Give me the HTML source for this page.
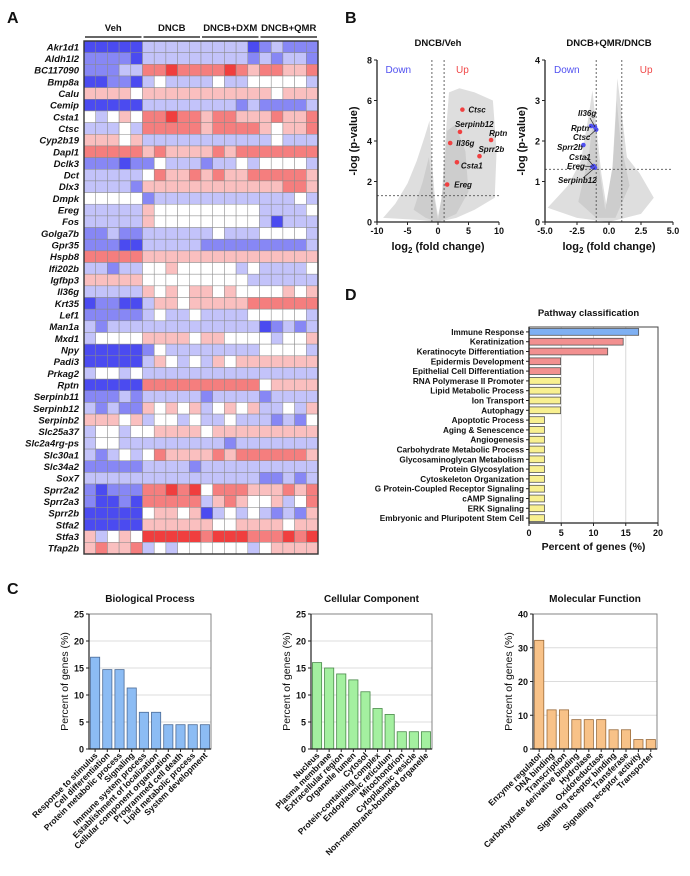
<!DOCTYPE html>
<html><head><meta charset="utf-8">
<style>
html,body{margin:0;padding:0;background:#fff;}
svg{display:block;font-family:"Liberation Sans",Arial,sans-serif;}
text{font-weight:bold;fill:#111;}
</style></head>
<body>
<svg id="fig" width="690" height="876" viewBox="0 0 690 876" xmlns="http://www.w3.org/2000/svg">
<text x="7" y="23" font-size="16">A</text>
<text x="345" y="23" font-size="16">B</text>
<text x="345" y="300" font-size="16">D</text>
<text x="7" y="594" font-size="16">C</text>
<g id="heat"></g>
<g id="volL"></g>
<g id="volR"></g>
<g id="path"></g>
<g id="bp"></g>
<g id="cc"></g>
<g id="mf"></g>
</svg>
<script>
// ---------- Heatmap data ----------
const genes = ["Akr1d1","Aldh1l2","BC117090","Bmp8a","Calu","Cemip","Csta1","Ctsc","Cyp2b19","Dapl1","Dclk3","Dct","Dlx3","Dmpk","Ereg","Fos","Golga7b","Gpr35","Hspb8","Ifi202b","Igfbp3","Il36g","Krt35","Lef1","Man1a","Mxd1","Npy","Padi3","Prkag2","Rptn","Serpinb11","Serpinb12","Serpinb2","Slc25a37","Slc2a4rg-ps","Slc30a1","Slc34a2","Sox7","Sprr2a2","Sprr2a3","Sprr2b","Stfa2","Stfa3","Tfap2b"];
const groups = ["Veh","DNCB","DNCB+DXM","DNCB+QMR"];
const heatValues = [
[-3,-3,-3,-3,-3,-1,-1,-1,-1,-1,-1,-1,-1,-1,-3,-2,-1,-2,-2,-2],
[-2,-2,-2,-2,-3,-1,-1,-1,-1,-1,-1,-1,-1,-1,-2,-1,-2,-1,-1,-2],
[-2,-2,-2,-1,-1,2,2,3,2,2,2,2,3,2,1,2,2,1,1,2],
[-3,-3,-2,-2,-3,-1,0,-1,-1,-1,-1,0,-1,-1,0,0,0,0,0,-1],
[1,1,1,1,0,1,1,1,1,1,1,1,1,1,1,1,0,1,1,1],
[-3,-3,-3,-3,-3,-1,-1,-1,-1,-1,-1,-1,-1,-2,-1,-2,-2,-2,-2,-1],
[0,-1,0,1,0,2,2,3,2,2,1,2,2,1,1,1,2,1,1,2],
[-1,-1,-1,0,-1,2,2,2,2,2,1,2,2,2,2,1,0,1,1,2],
[1,1,1,0,1,-1,-1,-1,-1,-1,-1,-1,-1,-1,-1,-1,0,-1,-1,-1],
[2,2,2,2,2,1,2,1,1,1,1,2,1,2,2,2,2,2,2,2],
[-2,-2,-2,-3,-2,-2,0,-1,-1,-1,-2,-1,-1,0,-1,0,0,0,0,-1],
[-1,-1,-1,-1,-1,0,2,1,1,2,1,2,1,1,2,2,2,2,2,1],
[-1,-1,-1,-1,-2,1,1,1,1,1,1,1,1,1,1,1,1,2,2,1],
[0,0,0,0,0,-2,-1,-1,-1,-1,-1,-1,-1,-1,-1,-1,-1,-1,0,-1],
[-1,-1,-1,-1,-1,1,0,0,0,0,0,0,0,0,0,-1,-1,-1,-1,0],
[-1,-1,-1,-1,-1,1,0,0,0,0,0,0,0,0,0,-1,-3,-1,-1,-1],
[-2,-2,-1,-2,-2,-1,-1,-1,-1,-1,-1,0,-1,-1,-1,0,0,0,0,-1],
[-2,-2,-2,-3,-3,-1,-1,-1,-1,-1,-2,-2,-2,-2,-2,-2,-2,-2,-2,-1],
[2,2,2,2,2,1,1,1,1,1,1,1,1,1,1,1,1,1,1,1],
[-1,-1,-2,-1,-1,0,0,1,0,0,0,0,0,-1,0,-1,-1,-1,-1,0],
[1,1,1,1,1,0,0,0,0,0,0,0,0,0,-1,-1,-1,-1,-1,-1],
[-1,-1,-1,-1,-1,1,0,1,0,1,1,0,1,0,0,0,0,1,0,1],
[-3,-2,-2,-3,-3,-1,1,1,0,1,1,1,1,1,2,2,2,2,2,2],
[-2,-2,-2,-2,-2,-1,0,-1,-1,0,-1,-1,-1,-1,0,0,0,0,0,-1],
[-1,-2,-1,-1,-1,-1,-1,-1,-1,-1,-1,-1,-1,-1,-1,-3,-2,-1,-2,-1],
[-1,0,0,0,0,1,1,1,1,0,1,1,0,0,0,0,-1,0,0,1],
[-3,-3,-3,-3,-3,-2,0,-1,-1,-1,-1,-1,-1,-1,-1,0,0,0,0,-1],
[-3,-3,-3,-3,-3,-1,1,0,-1,0,-1,1,0,1,1,1,1,1,1,1],
[-1,0,0,-1,0,-1,-1,-1,-1,-1,-1,-1,-1,-1,-1,-1,-1,-1,-1,-1],
[-3,-3,-3,-3,-3,2,2,2,2,2,2,2,2,2,2,0,1,1,1,1],
[-2,-2,-2,-1,-2,-1,-1,-1,-1,-1,-2,-1,-1,-1,-1,-2,-1,-1,-1,-1],
[-1,-2,-1,-2,-2,1,0,1,0,1,-1,0,1,0,1,-1,-1,0,-1,1],
[1,1,1,0,1,-1,0,0,-1,0,-1,-1,0,-1,-1,-1,-2,-1,-2,0],
[-1,0,0,-1,0,0,1,1,1,1,0,1,1,1,1,1,1,1,1,1],
[-1,0,0,-1,-1,-1,-1,-1,-1,-1,-1,-1,-2,-1,-1,-1,-1,-1,-1,-1],
[-1,-2,-1,0,-1,0,2,1,1,1,1,2,1,2,2,2,2,2,2,1],
[-2,-2,-2,-2,-2,-1,-1,-1,-1,-2,-1,-1,-1,-1,-1,-1,-1,-1,-1,-1],
[-1,-1,-1,-1,-1,-1,-1,-1,-1,-1,-1,-1,-1,-1,-1,-2,-2,-1,-2,-1],
[-2,-3,-2,-2,-2,2,2,3,2,3,0,2,2,2,1,1,1,2,1,2],
[-2,-3,-3,-2,-3,2,2,2,2,2,-1,1,2,1,0,0,1,-1,0,2],
[-3,-3,-3,-3,-3,0,1,1,0,1,-3,-1,0,-1,0,-1,-2,-1,-2,1],
[-3,-3,-3,-3,-3,1,1,1,1,1,1,0,0,1,1,1,1,0,1,1],
[1,-1,0,1,0,3,3,3,3,3,2,3,3,3,2,2,2,3,2,3],
[1,2,1,1,2,-1,0,-1,0,0,0,0,0,0,-1,0,1,1,1,1]
];
// ---------- Volcano data ----------
const volLGenes = ["Ctsc","Serpinb12","Rptn","Il36g","Sprr2b","Csta1","Ereg"];
const volLFC = [4.0,3.6,8.7,2.0,6.8,3.1,1.5];
const volLP = [5.55,4.45,4.05,3.9,3.25,2.95,1.85];
const volRGenes = ["Il36g","Rptn","Ctsc","Sprr2b","Csta1","Ereg","Serpinb12"];
const volRFC = [-1.1,-1.4,-1.0,-2.0,-1.2,-1.3,-1.1];
const volRP = [2.35,2.37,2.28,1.9,1.38,1.36,1.34];
// ---------- Pathway data ----------
const pathNames = ["Immune Response","Keratinization","Keratinocyte Differentiation","Epidermis Development","Epithelial Cell Differentiation","RNA Polymerase II Promoter","Lipid Metabolic Process","Ion Transport","Autophagy","Apoptotic Process","Aging & Senescence","Angiogenesis","Carbohydrate Metabolic Process","Glycosaminoglycan Metabolism","Protein Glycosylation","Cytoskeleton Organization","G Protein-Coupled Receptor Signaling","cAMP Signaling","ERK Signaling","Embryonic and Pluripotent Stem Cell"];
const pathValues = [17,14.6,12.2,4.9,4.9,4.9,4.9,4.9,4.9,2.4,2.4,2.4,2.4,2.4,2.4,2.4,2.4,2.4,2.4,2.4];
const pathCats = ["blue","red","red","red","red","yellow","yellow","yellow","yellow","yellow","yellow","yellow","yellow","yellow","yellow","yellow","yellow","yellow","yellow","yellow"];
const pathTicks = [0,5,10,15,20];
// ---------- GO data ----------
const bpNames = ["Response to stimulus","Cell differentiation","Protein metabolic process","Signaling","Immune system process","Establishment of localization","Cellular component organization","Programmed cell death","Lipid metabolic process","System development"];
const bpValues = [17,14.7,14.7,11.3,6.8,6.8,4.5,4.5,4.5,4.5];
const ccNames = ["Nucleus","Plasma membrane","Extracellular region","Organelle lumen","Cytosol","Protein-containing complex","Endoplasmic reticulum","Mitochondrion","Cytoplasmic vesicle","Non-membrane-bounded organelle"];
const ccValues = [16,15,13.9,12.8,10.6,7.5,6.4,3.2,3.2,3.2];
const mfNames = ["Enzyme regulator","DNA binding","Transcription","Carbohydrate derivative binding","Hydrolase","Oxidoreductase","Signaling receptor binding","Transferase","Signaling receptor activity","Transporter"];
const mfValues = [32.2,11.6,11.6,8.7,8.7,8.7,5.7,5.7,2.8,2.8];
const goTicks25 = [0,5,10,15,20,25];
const goTicks40 = [0,10,20,30,40];

const NS = "http://www.w3.org/2000/svg";
function mk(tag, attrs, parent){
  const e = document.createElementNS(NS, tag);
  for (const k in attrs) e.setAttribute(k, attrs[k]);
  parent.appendChild(e);
  return e;
}
function txt(s, attrs, parent){
  const e = mk("text", attrs, parent);
  e.textContent = s;
  return e;
}

// ---------- Heatmap ----------
(function(){
  const g = document.getElementById("heat");
  const x0 = 84, x1 = 318, y0 = 41, y1 = 554;
  const cw = (x1-x0)/20, rh = (y1-y0)/genes.length;
  function col(v){
    const t = Math.min(Math.abs(v)/3,1);
    const c = v < 0 ? [75,75,240] : [240,62,62];
    const r = Math.round(255+(c[0]-255)*t), gg = Math.round(255+(c[1]-255)*t), b = Math.round(255+(c[2]-255)*t);
    return "rgb("+r+","+gg+","+b+")";
  }
  groups.forEach(function(name, i){
    const gx0 = x0 + i*5*cw + 1, gx1 = x0 + (i+1)*5*cw - 1;
    const t = txt(name, {x:(gx0+gx1)/2, y:31, "font-size":"9.5", "text-anchor":"middle"}, g);
    
    
    const l = mk("line", {x1:gx0, x2:gx1, y1:37, y2:37, stroke:"#333", "stroke-width":"1.6"}, g);
    
    
  });
  genes.forEach(function(gn, r){
    const t = txt(gn, {x:79, y:y0 + (r+0.5)*rh + 3.5, "font-size":"9.5", "font-style":"italic", "text-anchor":"end"}, g);
    
    
    heatValues[r].forEach(function(v, c){
      const rc = mk("rect", {x:x0 + c*cw, y:y0 + r*rh, width:cw, height:rh, fill:col(v), stroke:"#8a8a8a", "stroke-width":"0.5"}, g);
      
      
    });
  });
  const b = mk("rect", {x:x0, y:y0, width:x1-x0, height:y1-y0, fill:"none", stroke:"#333", "stroke-width":"1.4"}, g);
  
  
})();

// ---------- Volcano ----------
function volcano(gid, title, xmin, xmax, ymax, xticks, yticks, xtl, fcs, ps, names, color, cloud, right){
  const g = document.getElementById(gid);
  const L = right ? 545 : 377, R = right ? 673 : 499, T = 60, B = 222;
  const xs = function(v){ return L + (v - xmin)/(xmax - xmin)*(R-L); };
  const ys = function(v){ return B - v/ymax*(B-T); };
  const tt = txt(title, {x:(L+R)/2, y:46, "font-size":"9.5", "text-anchor":"middle"}, g);
  
  
  cloud.forEach(function(poly, i){
    const pts = poly.map(function(p){ return xs(p[0]).toFixed(1)+","+ys(p[1]).toFixed(1); }).join(" ");
    const pg = mk("polygon", {points:pts, fill: i===0 ? "#dedede" : "#cdcdcd", stroke:"none"}, g);
    
    
  });
  [-1,1].forEach(function(v){
    const l = mk("line", {x1:xs(v), x2:xs(v), y1:T, y2:B, stroke:"#555", "stroke-width":"0.9", "stroke-dasharray":"2,2"}, g);
    
    
  });
  const hl = mk("line", {x1:L, x2:R, y1:ys(1.3), y2:ys(1.3), stroke:"#555", "stroke-width":"0.9", "stroke-dasharray":"2,2"}, g);
  
  
  const ax = mk("path", {d:"M"+L+","+T+" V"+B+" H"+R, fill:"none", stroke:"#222", "stroke-width":"1.3"}, g);
  
  
  xticks.forEach(function(v, i){
    mk("line", {x1:xs(v), x2:xs(v), y1:B, y2:B+3, stroke:"#222", "stroke-width":"1"}, g);
    const t = txt(xtl[i], {x:xs(v), y:B+12, "font-size":"9", "text-anchor":"middle"}, g);
    
    
  });
  yticks.forEach(function(v){
    mk("line", {x1:L-3, x2:L, y1:ys(v), y2:ys(v), stroke:"#222", "stroke-width":"1"}, g);
    const t = txt(String(v), {x:L-5, y:ys(v)+3.5, "font-size":"9", "text-anchor":"end"}, g);
    
    
  });
  const xt = txt("", {x:(L+R)/2, y:B+28, "font-size":"11", "text-anchor":"middle", "font-weight":right?"normal":"bold"}, g);
  xt.innerHTML = 'log<tspan font-size="8" dy="3">2</tspan><tspan dy="-3"> (fold change)</tspan>';
  
  
  const yt = txt("-log (p-value)", {x:0, y:0, "font-size":"11", "text-anchor":"middle", transform:"translate("+(L-20)+","+((T+B)/2)+") rotate(-90)"}, g);
  
  
  const dn = txt("Down", {x:right?xs(-3.3):xs(-6.5), y:T+13, "font-size":"10", "text-anchor":"middle", style:"fill:#5050f0;font-weight:normal"}, g);
  
  
  const up = txt("Up", {x:right?xs(2.9):xs(4),  y:T+13, "font-size":"10", "text-anchor":"middle", style:"fill:#f04848;font-weight:normal"}, g);
  
  
  fcs.forEach(function(v, i){
    const c = mk("circle", {cx:xs(v), cy:ys(ps[i]), r:2.3, fill:color}, g);
    
    
  });
  return {g:g, xs:xs, ys:ys};
}
const cloudL = [
  [[-9,0.2],[-7,0.9],[-5,1.9],[-3.5,3.0],[-2.2,4.2],[-1.4,5.0],[-1.0,3.0],[-0.5,1.2],[0,0.3],[0.6,1.2],[1.2,4.0],[1.8,6.4],[3.5,6.6],[6,6.4],[9,6.0],[9.6,3.5],[9.3,1.2],[6,0.6],[3,0.2],[0,0],[-3,0.1]],
  [[-4,0.6],[-2.5,2.0],[-1.5,3.2],[-0.8,1.5],[0,0.1],[0.8,1.6],[1.5,4.5],[2.8,4.8],[4.5,3.5],[5,1.5],[3,0.4],[0,0],[-2,0.2]]
];
const cloudR = [
  [[-4.8,0.35],[-3.2,0.9],[-2.2,1.5],[-1.6,2.6],[-1.3,3.25],[-1.0,2.4],[-0.6,1.2],[-0.2,0.4],[0.2,1.0],[0.5,2.6],[0.65,3.55],[0.95,2.8],[1.4,1.6],[2.4,1.2],[3.5,0.6],[2.5,0.2],[0,0],[-2.5,0.1]],
  [[-2.4,0.5],[-1.6,1.6],[-1.2,2.6],[-0.8,1.4],[-0.3,0.3],[0.3,1.4],[0.6,3.0],[0.9,2.0],[1.6,0.9],[0.5,0.1],[-1,0.1]]
];
const vl = volcano("volL", "DNCB/Veh", -10, 10, 8, [-10,-5,0,5,10], [0,2,4,6,8], ["-10","-5","0","5","10"], volLFC, volLP, volLGenes, "#f04040", cloudL, false);
// label offsets relative to each point (layout, not data)
const labOffL = [[6,3],[-5,-5],[-2,-4],[6,3],[-1,-4],[4,6],[7,3]];
volLGenes.forEach(function(nm, i){
  const o = labOffL[i];
  const t = txt(nm, {x:vl.xs(volLFC[i])+o[0], y:vl.ys(volLP[i])+o[1], "font-size":"8", "font-style":"italic"}, vl.g);
  
  
});
const vr = volcano("volR", "DNCB+QMR/DNCB", -5, 5, 4, [-5,-2.5,0,2.5,5], [0,1,2,3,4], ["-5.0","-2.5","0.0","2.5","5.0"], volRFC, volRP, volRGenes, "#5050f0", cloudR, true);
const labPosR = [[578,116],[571,131],[573,140],[557,150],[569,160],[567,169],[558,183]];
const arrowStartR = [[590,118],[588,128],[588,137],null,[586,157],[584,166],[583,178]];
volRGenes.forEach(function(nm, i){
  const p = labPosR[i];
  const t = txt(nm, {x:p[0], y:p[1], "font-size":"8", "font-style":"italic"}, vr.g);
  
  
  const a = arrowStartR[i];
  if (a) {
    const l = mk("line", {x1:a[0], y1:a[1], x2:vr.xs(volRFC[i]), y2:vr.ys(volRP[i]), stroke:"#222", "stroke-width":"0.7"}, vr.g);
    
    
  }
});

// ---------- Pathway chart ----------
(function(){
  const g = document.getElementById("path");
  const L = 529, R = 658, T = 327, B = 523, xmax = 20;
  const xs = function(v){ return L + v/xmax*(R-L); };
  const step = (B-T)/pathNames.length;
  const fills = {blue:"#7fb0f2", red:"#f29090", yellow:"#f8f090"};
  const tl = txt("Pathway classification", {x:(L+R)/2-5, y:316, "font-size":"9.5", "text-anchor":"middle"}, g);
  
  
  pathTicks.forEach(function(v){
    if (v>0 && v<xmax) {
      const gl = mk("line", {x1:xs(v), x2:xs(v), y1:T, y2:B, stroke:"#d8d8d8", "stroke-width":"1"}, g);
      
      
    }
    mk("line", {x1:xs(v), x2:xs(v), y1:B, y2:B+3, stroke:"#222"}, g);
    const t = txt(String(v), {x:xs(v), y:B+13, "font-size":"9", "text-anchor":"middle"}, g);
    
    
  });
  pathNames.forEach(function(nm, i){
    const cy = T + (i+0.5)*step;
    const b = mk("rect", {x:L, y:cy-3.4, width:xs(pathValues[i])-L, height:6.8, fill:fills[pathCats[i]], stroke:"#555", "stroke-width":"0.8"}, g);
    
    
    mk("line", {x1:L-3, x2:L, y1:cy, y2:cy, stroke:"#222"}, g);
    const t = txt(nm, {x:L-5, y:cy+3, "font-size":"8.2", "text-anchor":"end"}, g);
    
    
  });
  const fr = mk("rect", {x:L, y:T, width:R-L, height:B-T, fill:"none", stroke:"#444", "stroke-width":"1"}, g);
  
  
  const ax = mk("path", {d:"M"+L+","+T+" V"+B+" H"+R, fill:"none", stroke:"#222", "stroke-width":"1.3"}, g);
  
  
  const xt = txt("Percent of genes (%)", {x:(L+R)/2, y:550, "font-size":"10.5", "text-anchor":"middle"}, g);
  
  
})();

// ---------- GO bar charts ----------
function goChart(gid, title, L, R, names, values, ticks, ymax, fill, stroke){
  const g = document.getElementById(gid);
  const T = 614, B = 749;
  const ys = function(v){ return B - v/ymax*(B-T); };
  const slot = (R-L)/names.length;
  const tl = txt(title, {x:(L+R)/2, y:602, "font-size":"10", "text-anchor":"middle"}, g);
  
  
  ticks.forEach(function(v){
    if (v>0 && v<ymax) {
      const gl = mk("line", {x1:L, x2:R, y1:ys(v), y2:ys(v), stroke:"#dcdcdc", "stroke-width":"1"}, g);
      
      
    }
    mk("line", {x1:L-3, x2:L, y1:ys(v), y2:ys(v), stroke:"#222"}, g);
    const t = txt(String(v), {x:L-5, y:ys(v)+3.5, "font-size":"9", "text-anchor":"end"}, g);
    
    
  });
  names.forEach(function(nm, i){
    const cx = L + (i+0.5)*slot;
    const b = mk("rect", {x:cx-4.6, y:ys(values[i]), width:9.2, height:B-ys(values[i]), fill:fill, stroke:stroke, "stroke-width":"0.8"}, g);
    
    
    mk("line", {x1:cx, x2:cx, y1:B, y2:B+3, stroke:"#222"}, g);
    const t = txt(nm, {x:0, y:0, "font-size":"8.5", "text-anchor":"end", transform:"translate("+(cx+3)+","+(B+7)+") rotate(-45)"}, g);
    
    
  });
  const fr = mk("rect", {x:L, y:T, width:R-L, height:B-T, fill:"none", stroke:"#777", "stroke-width":"0.9"}, g);
  
  
  const ax = mk("path", {d:"M"+L+","+T+" V"+B+" H"+R, fill:"none", stroke:"#222", "stroke-width":"1.2"}, g);
  
  
  const yt = txt("Percent of genes (%)", {x:0, y:0, "font-size":"10.5", "text-anchor":"middle", style:"font-weight:normal", transform:"translate("+(L-21)+","+((T+B)/2)+") rotate(-90)"}, g);
  
  
}
goChart("bp", "Biological Process", 89, 211, bpNames, bpValues, goTicks25, 25, "#8cbcf4", "#4a6a96");
goChart("cc", "Cellular Component", 311, 432, ccNames, ccValues, goTicks25, 25, "#a4f0a0", "#4a8a4a");
goChart("mf", "Molecular Function", 533, 657, mfNames, mfValues, goTicks40, 40, "#f8c288", "#9a6a3a");
</script>
</body></html>
